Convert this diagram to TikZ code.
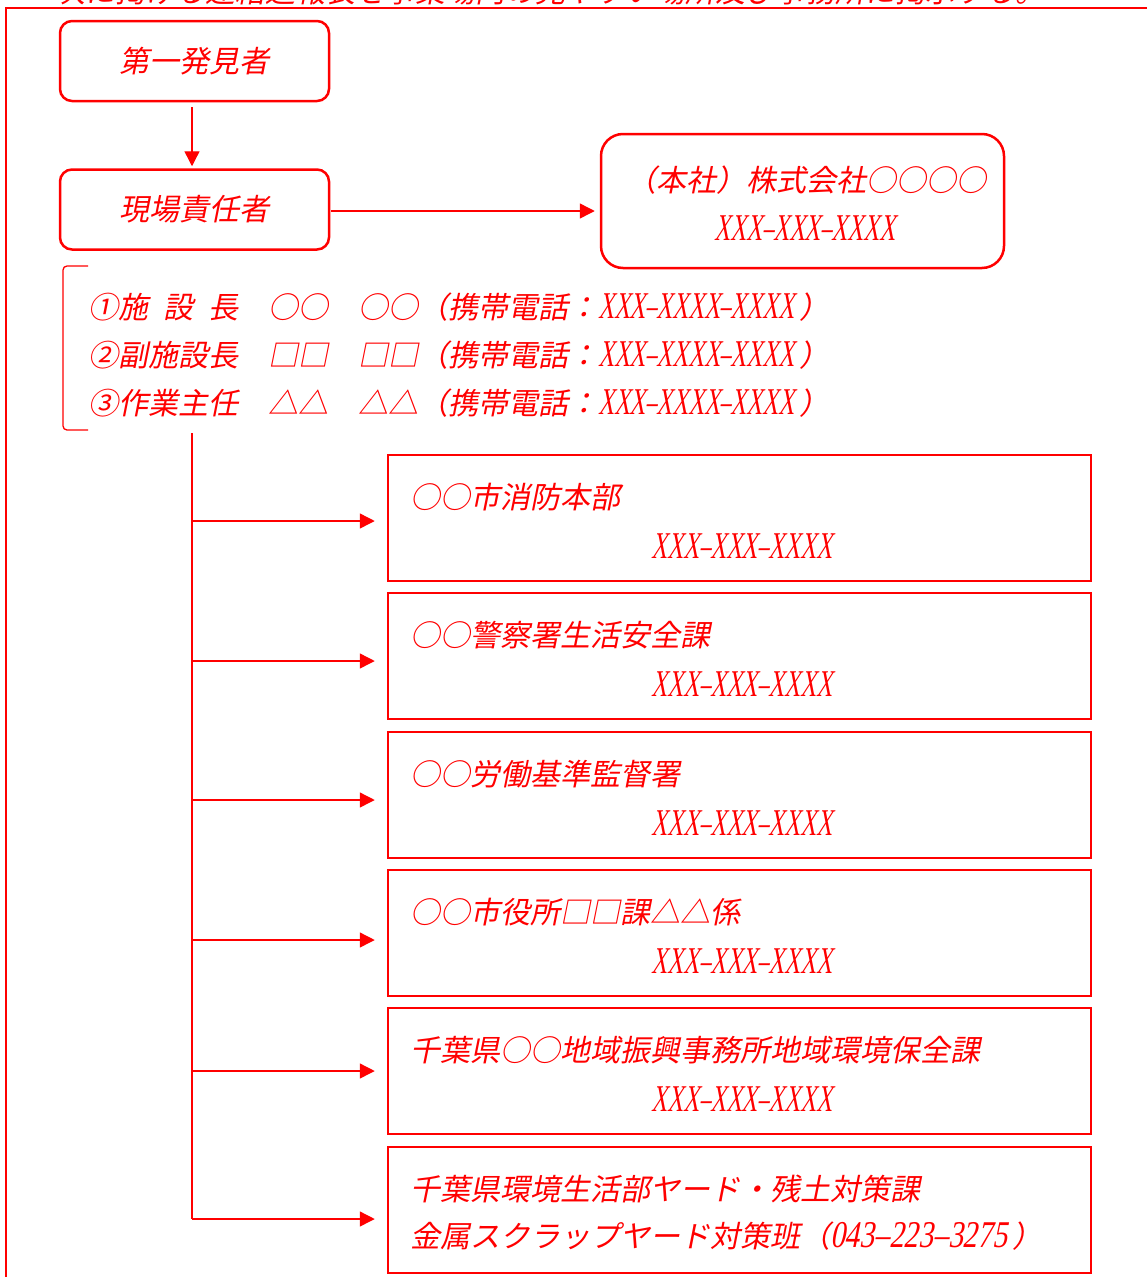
\documentclass[tikz,border=0pt]{standalone}
\usepackage{fontspec}
\usetikzlibrary{arrows.meta}
\newfontfamily\jp{Noto Sans CJK JP}[FakeSlant=0.2]
\newfontfamily\lat{Liberation Serif}[FakeSlant=0.2,FakeStretch=0.58,Scale=1.26]
\newfontfamily\latd{Liberation Serif}[FakeSlant=0.2,FakeStretch=0.78,Scale=1.26]
\definecolor{cred}{RGB}{255,0,0}
\newcommand{\tel}[1]{{\lat #1}}
\newcommand{\telx}{\tel{XXX–XXX–XXXX}}
\begin{document}
\begin{tikzpicture}[x=1pt,y=-1pt,
  every node/.style={font=\jp\fontsize{30}{36}\selectfont, text=cred, inner sep=0pt},
  rbox/.style={draw=cred, line width=2.5pt, rounded corners=12pt, minimum width=269pt, minimum height=80pt},
  hqbox/.style={draw=cred, line width=2.5pt, rounded corners=22pt, minimum width=403pt, minimum height=134pt},
  sbox/.style={draw=cred, line width=2.5pt, minimum width=703pt, minimum height=126pt},
  txt/.style={anchor=base west},
  ctxt/.style={anchor=base},
  conn/.style={draw=cred, line width=1.4pt},
  arr/.style={conn, -{Triangle[length=15pt,width=15pt]}},
  frame/.style={draw=cred, line width=2pt},
  brk/.style={draw=cred, line width=1.3pt, rounded corners=4pt},
]
\useasboundingbox (0,0) rectangle (1146,1277);
% clipped heading and frame
\node[txt] (note) at (55,2) {次に掲げる連絡通報表を事業場内の見やすい場所及び事務所に掲示する。};
\draw[frame] (6,1300) -- (6,8) -- (1170,8);
% top boxes
\node[rbox] (first) at (194.5,61) {第一発見者};
\node[rbox] (site) at (194.5,209.5) {現場責任者};
\node[hqbox] (hq) at (802.5,201) {};
\node[ctxt] (hq1) at (806,191) {（本社）株式会社○○○○};
\node[ctxt] (hq2) at (805,240) {\telx};
\draw[arr, shorten <=5pt, shorten >=2pt] ([xshift=-2.5pt]first.south) -- ([xshift=-2.5pt]site.north);
\draw[arr, shorten <=1pt, shorten >=5pt] ([yshift=-1.5pt]site.east) -- ([yshift=-1.5pt]site.east -| hq.west);
% bracket list
\coordinate (brt) at (88,266);
\coordinate (brb) at (88,430);
\draw[brk] (brt) -- (brt -| 63,0) -- (brb -| 63,0) -- (brb);
\node[txt] (m1) at (88,318) {①施\hspace{0.5em}設\hspace{0.5em}長　○○　○○（携帯電話：\tel{XXX–XXXX–XXXX}\,）};
\node[txt] (m2) at (88,366) {②副施設長　□□　□□（携帯電話：\tel{XXX–XXXX–XXXX}\,）};
\node[txt] (m3) at (88,414) {③作業主任　△△　△△（携帯電話：\tel{XXX–XXXX–XXXX}\,）};
% right boxes
\node[sbox] (b1) at (739.5,518) {};
\node[sbox] (b2) at (739.5,656) {};
\node[sbox] (b3) at (739.5,795) {};
\node[sbox] (b4) at (739.5,933) {};
\node[sbox] (b5) at (739.5,1071) {};
\node[sbox] (b6) at (739.5,1210) {};
\node[txt] (t1) at (410,508) {○○市消防本部};
\node[ctxt] (p1) at (742,558) {\telx};
\node[txt] (t2) at (410,646) {○○警察署生活安全課};
\node[ctxt] (p2) at (742,696) {\telx};
\node[txt] (t3) at (410,785) {○○労働基準監督署};
\node[ctxt] (p3) at (742,835) {\telx};
\node[txt] (t4) at (410,923) {○○市役所□□課△△係};
\node[ctxt] (p4) at (742,973) {\telx};
\node[txt] (t5) at (410,1061) {千葉県○○地域振興事務所地域環境保全課};
\node[ctxt] (p5) at (742,1111) {\telx};
\node[txt] (t6) at (410,1200) {千葉県環境生活部ヤード・残土対策課};
\node[txt] (p6) at (410,1247) {金属スクラップヤード対策班（{\latd 043–223–3275}\,）};
% trunk and branches
\coordinate (trunk) at (192,433);
\coordinate (j1) at (192,521);
\coordinate (j2) at (192,661);
\coordinate (j3) at (192,800);
\coordinate (j4) at (192,940);
\coordinate (j5) at (192,1071);
\coordinate (j6) at (192,1219);
\draw[conn] (trunk) -- (j6);
\foreach \i in {1,...,6}{
  \draw[arr, shorten >=12pt] (j\i) -- (j\i -| b\i.west);
}
\end{tikzpicture}
\end{document}
